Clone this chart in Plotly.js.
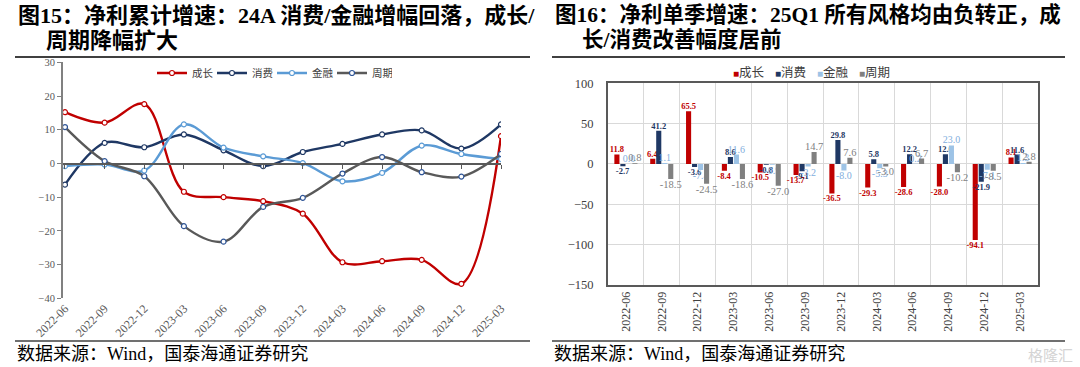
<!DOCTYPE html>
<html><head><meta charset="utf-8">
<script src="https://cdn.plot.ly/plotly-3.0.1.min.js"></script>
<style>html,body{margin:0;padding:0;background:#fff;} #chart{width:1080px;height:367px;}</style>
</head><body><div id="chart"></div>
<script>
const categories = ['2022-06','2022-09','2022-12','2023-03','2023-06','2023-09','2023-12','2024-03','2024-06','2024-09','2024-12','2025-03'];
const seriesNames = ['成长','消费','金融','周期'];
// 图15 净利累计增速 (%)
const cumGrowth      = [15.2, 12.1, 17.6, -8.4, -10.0, -11.2, -14.9, -29.3, -29.0, -28.6, -35.7, 8.1];
const cumConsumption = [-6.3, 6.1, 4.8, 8.6, 3.9, -0.8, 3.4, 5.8, 8.6, 9.8, 4.4, 11.6];
const cumFinance     = [-0.8, -0.3, -2.1, 11.6, 4.7, 2.1, 0.1, -5.3, -2.8, 5.3, 2.8, 1.3];
const cumCyclical    = [10.8, 0.7, -3.8, -18.6, -23.2, -12.9, -10.2, -3.0, 1.9, -2.6, -3.9, 2.8];
// 图16 净利单季增速 (%)
const qGrowth      = [11.8, 6.4, 65.5, -8.4, -10.5, -13.7, -36.5, -29.3, -28.6, -28.0, -94.1, 8.1];
const qConsumption = [-2.7, 41.2, -3.6, 8.6, -0.8, -9.1, 29.8, 5.8, 12.2, 12.0, -21.9, 11.6];
const qFinance     = [0.0, 1.1, -7.4, 11.6, -0.9, -3.2, -8.0, -5.3, 0.2, 23.0, -7.1, 1.3];
const qCyclical    = [0.8, -18.5, -24.5, -18.6, -27.0, 14.7, 7.6, -3.0, 6.7, -10.2, -8.5, 2.8];

const title15a = '图15：净利累计增速：24A 消费/金融增幅回落，成长/';
const title15b = '周期降幅扩大';
const title16a = '图16：净利单季增速：25Q1 所有风格均由负转正，成';
const title16b = '长/消费改善幅度居前';
const sourceText = '数据来源：Wind，国泰海通证券研究';

const W = 1080, H = 367;
const px = v => v / W;
const py = v => 1 - v / H;
const SERIF = 'Liberation Serif, Noto Sans CJK SC, serif';

const lineColors = ['#C00000', '#1F3864', '#5B9BD5', '#595959'];
const markerEdge = ['#C00000', '#1F3864', '#5B9BD5', '#2F5597'];
const barColors = ['#C00000', '#1F3864', '#9DC3E6', '#808080'];
const labelFonts = [
  {family: SERIF, size: 8.5, color: '#C00000', weight: 'bold'},
  {family: SERIF, size: 8.5, color: '#1F3864', weight: 'bold'},
  {family: SERIF, size: 10, color: '#7FAEDD'},
  {family: SERIF, size: 10.5, color: '#7F7F7F'}
];

const cumSeries = [cumGrowth, cumConsumption, cumFinance, cumCyclical];
const qSeries = [qGrowth, qConsumption, qFinance, qCyclical];

const traces = [];
cumSeries.forEach((vals, i) => {
  traces.push({
    type: 'scatter', mode: 'lines+markers', name: seriesNames[i],
    x: categories, y: vals, xaxis: 'x', yaxis: 'y',
    line: {color: lineColors[i], width: 2.4, shape: 'spline', smoothing: 1},
    marker: {symbol: 'circle', size: 5, color: '#ffffff', line: {color: markerEdge[i], width: 1.2}},
    legend: 'legend', hoverinfo: 'skip'
  });
});
traces.push({type: 'scatter', x: [], y: [], xaxis: 'x3', yaxis: 'y', showlegend: false, hoverinfo: 'skip'});
qSeries.forEach((vals, i) => {
  traces.push({
    type: 'bar', name: seriesNames[i], x: categories, y: vals,
    xaxis: 'x2', yaxis: 'y2', marker: {color: barColors[i]},
    text: vals.map(v => v.toFixed(1)), texttemplate: '%{text}', textposition: 'outside',
    textangle: 0, constraintext: 'none', cliponaxis: false,
    textfont: labelFonts[i], showlegend: false, hoverinfo: 'skip'
  });
});

// left plot geometry
const lx0 = 63, lx1 = 501, ly0 = 62.3, ly1 = 298.3;
const yMin = -40, yMax = 30;
const zeroPos = py(ly1) + (0 - yMin) / (yMax - yMin) * (py(ly0) - py(ly1));

const shapes = [
  {type: 'line', xref: 'paper', yref: 'paper', x0: px(15), x1: px(530), y0: py(57), y1: py(57), line: {color: '#404040', width: 2}},
  {type: 'line', xref: 'paper', yref: 'paper', x0: px(552), x1: px(1065), y0: py(57), y1: py(57), line: {color: '#404040', width: 2}},
  {type: 'line', xref: 'paper', yref: 'paper', x0: px(15), x1: px(530), y0: py(341), y1: py(341), line: {color: '#404040', width: 1.3}},
  {type: 'line', xref: 'paper', yref: 'paper', x0: px(552), x1: px(1065), y0: py(341), y1: py(341), line: {color: '#404040', width: 1.3}}
];

const titleFontL = {family: SERIF, size: 22, color: '#000000'};
const titleFontR = {family: SERIF, size: 21.5, color: '#000000'};
const annotations = [
  {text: '<b>' + title15a + '</b>', x: px(16), y: py(15), font: titleFontL},
  {text: '<b>' + title15b + '</b>', x: px(44), y: py(40), font: titleFontL},
  {text: '<b>' + title16a + '</b>', x: px(553), y: py(15), font: titleFontR},
  {text: '<b>' + title16b + '</b>', x: px(580), y: py(40), font: titleFontR}
].map(a => Object.assign(a, {xref: 'paper', yref: 'paper', xanchor: 'left', yanchor: 'middle', showarrow: false}));

[15, 552].forEach(x => annotations.push({
  text: sourceText, x: px(x), y: py(354), xref: 'paper', yref: 'paper', xanchor: 'left', yanchor: 'middle',
  showarrow: false, font: {family: SERIF, size: 18, color: '#000000'}
}));
annotations.push({text: '格隆汇', x: px(1075), y: py(354), xref: 'paper', yref: 'paper', xanchor: 'right', yanchor: 'middle',
  showarrow: false, font: {family: 'Noto Sans CJK SC', size: 15, color: '#d4d4d4'}});

// right legend (square + name)
seriesNames.forEach((n, i) => annotations.push({
  text: '<span style="color:' + barColors[i] + ';font-size:10px">■</span>' + n,
  x: px(731 + i * 42), y: py(73), xref: 'paper', yref: 'paper', xanchor: 'left', yanchor: 'middle',
  showarrow: false, font: {family: SERIF, size: 12.5, color: '#404040'}
}));

const layout = {
  width: W, height: H, margin: {l: 0, r: 0, t: 0, b: 0},
  paper_bgcolor: '#ffffff', plot_bgcolor: 'rgba(0,0,0,0)',
  barmode: 'group', bargap: 0.33, bargroupgap: 0.15,
  showlegend: true,
  legend: {orientation: 'h', x: px(152), y: py(73), xanchor: 'left', yanchor: 'middle',
    font: {family: SERIF, size: 10.5, color: '#404040'}, bgcolor: 'rgba(0,0,0,0)',
    entrywidth: 15, entrywidthmode: 'pixels', itemwidth: 30},
  xaxis: {domain: [px(lx0), px(lx1)], anchor: 'y', type: 'category', range: [-0.05, 11],
    showline: false, ticks: '', tickangle: -45, showgrid: false, zeroline: false,
    tickfont: {family: SERIF, size: 12, color: '#595959'}},
  yaxis: {domain: [py(ly1), py(ly0)], anchor: 'x', range: [yMin, yMax], dtick: 10,
    showline: true, linecolor: '#808080', linewidth: 2, ticks: 'outside', ticklen: 4, tickcolor: '#808080',
    showgrid: false, zeroline: false, tickfont: {family: SERIF, size: 10.5, color: '#595959'}},
  xaxis3: {overlaying: 'x', anchor: 'free', position: zeroPos, type: 'linear', range: [-0.05, 11],
    tick0: 0, dtick: 1, ticks: 'outside', ticklen: 4, tickcolor: '#595959', tickwidth: 1,
    showline: true, linecolor: '#595959', linewidth: 1.3, showticklabels: false, showgrid: false, zeroline: false},
  xaxis2: {domain: [px(608), px(1038)], anchor: 'y2', type: 'category', range: [-0.5, 11.5],
    tickson: 'boundaries', showgrid: true, gridcolor: '#D9D9D9', gridwidth: 1,
    showline: true, mirror: true, linecolor: '#595959', linewidth: 2, ticks: '', tickangle: -90,
    zeroline: false, tickfont: {family: SERIF, size: 12, color: '#404040'}},
  yaxis2: {domain: [py(285), py(83.3)], anchor: 'x2', range: [-150, 100], dtick: 50,
    showgrid: true, gridcolor: '#D9D9D9', showline: true, mirror: true, linecolor: '#595959', linewidth: 2,
    ticks: '', zeroline: true, zerolinecolor: '#D9D9D9', zerolinewidth: 1, ticklabelstandoff: 10,
    tickfont: {family: SERIF, size: 12.5, color: '#404040'}},
  shapes: shapes,
  annotations: annotations
};

Plotly.newPlot('chart', traces, layout, {staticPlot: true, displayModeBar: false});
</script>
</body></html>
